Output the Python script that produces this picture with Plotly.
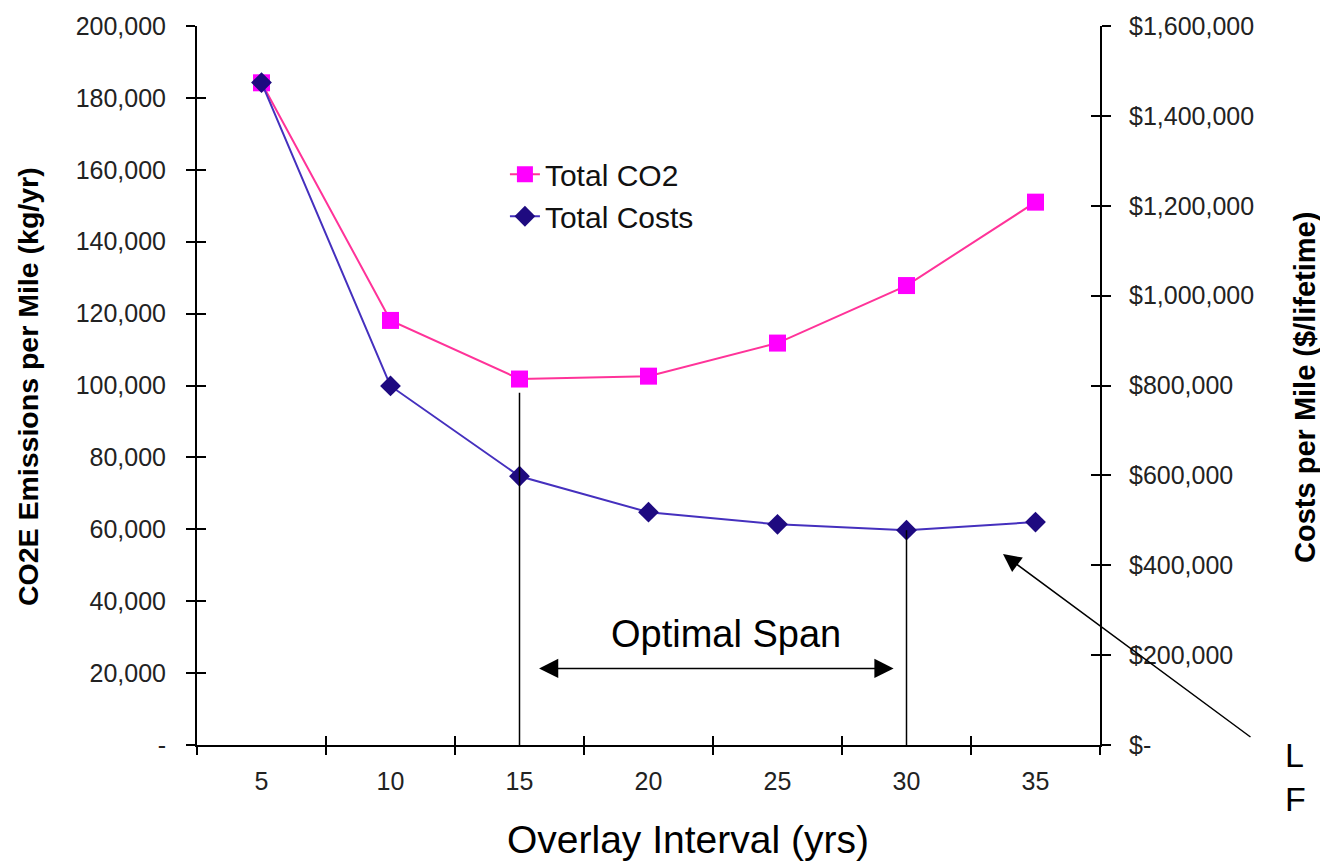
import plotly.graph_objects as go

# Overlay interval categories (years)
intervals = [5, 10, 15, 20, 25, 30, 35]
interval_labels = ["5", "10", "15", "20", "25", "30", "35"]

# Total CO2E emissions per mile (kg/yr) - left axis
total_co2 = [184200, 118100, 101800, 102600, 111800, 127800, 151000]

# Total costs per mile ($/lifetime) - right axis
total_costs = [1474000, 799000, 598000, 518000, 491000, 478000, 496000]

# Axis ticks
co2_ticks = [0, 20000, 40000, 60000, 80000, 100000, 120000, 140000, 160000, 180000, 200000]
co2_tick_text = ["-", "20,000", "40,000", "60,000", "80,000", "100,000", "120,000",
                 "140,000", "160,000", "180,000", "200,000"]
cost_ticks = [0, 200000, 400000, 600000, 800000, 1000000, 1200000, 1400000, 1600000]
cost_tick_text = ["$-", "$200,000", "$400,000", "$600,000", "$800,000", "$1,000,000",
                  "$1,200,000", "$1,400,000", "$1,600,000"]

# Optimal span bounds
span_start, span_end = 15, 30
span_start_top = 98000        # top of the marker line at the start of the span (kg/yr)

FONT = "Liberation Sans, Arial, sans-serif"
x_range = [2.5, 37.5]
x_bounds = [2.5 + 5 * i for i in range(8)]

fig = go.Figure()

fig.add_trace(go.Scatter(
    x=intervals, y=total_co2, name="Total CO2", mode="lines+markers",
    line=dict(color="#FF3399", width=2),
    marker=dict(symbol="square", size=17, color="#FF00FF", line=dict(width=0)),
    xaxis="x", yaxis="y",
))
fig.add_trace(go.Scatter(
    x=intervals, y=total_costs, name="Total Costs", mode="lines+markers",
    line=dict(color="#4530BE", width=2),
    marker=dict(symbol="diamond", size=16, color="#1E0A80", line=dict(width=0)),
    xaxis="x", yaxis="y2",
))

# Empty traces that hold the tick-mark overlay axes
for xa, ya in [("x2", "y"), ("x3", "y"), ("x", "y3"), ("x", "y4")]:
    fig.add_trace(go.Scatter(x=[None], y=[None], xaxis=xa, yaxis=ya,
                             showlegend=False, hoverinfo="skip"))

tick_font = dict(family=FONT, size=25, color="#222222")

fig.update_layout(
    width=1320, height=862,
    margin=dict(l=197, r=220, t=22, b=117),
    paper_bgcolor="white", plot_bgcolor="white",
    font=dict(family=FONT, color="black"),
    showlegend=True,
    legend=dict(x=0.341, y=0.83, xanchor="left", yanchor="top",
                bgcolor="rgba(0,0,0,0)", font=dict(family=FONT, size=30, color="#111111"),
                tracegroupgap=0),
    xaxis=dict(range=x_range, tickvals=intervals, ticktext=interval_labels,
               ticks="", showline=True, linecolor="black", linewidth=2,
               showgrid=False, zeroline=False, tickfont=tick_font,
               ticklabelstandoff=13, fixedrange=True),
    xaxis2=dict(range=x_range, overlaying="x", anchor="y", side="bottom",
                tickvals=x_bounds, ticks="outside", ticklen=9, tickwidth=2,
                tickcolor="black", showticklabels=False, showline=False,
                showgrid=False, zeroline=False),
    xaxis3=dict(range=x_range, overlaying="x", anchor="y", side="bottom",
                tickvals=x_bounds, ticks="inside", ticklen=9, tickwidth=2,
                tickcolor="black", showticklabels=False, showline=False,
                showgrid=False, zeroline=False),
    yaxis=dict(range=[0, 200000], tickvals=co2_ticks, ticktext=co2_tick_text,
               ticks="outside", ticklen=9, tickwidth=2, tickcolor="black",
               showline=True, linecolor="black", linewidth=2, showgrid=False,
               zeroline=False, tickfont=tick_font, ticklabelstandoff=15),
    yaxis2=dict(range=[0, 1600000], tickvals=cost_ticks, ticktext=cost_tick_text,
                overlaying="y", side="right", anchor="x",
                ticks="outside", ticklen=9, tickwidth=2, tickcolor="black",
                showline=True, linecolor="black", linewidth=2, showgrid=False,
                zeroline=False, tickfont=tick_font, ticklabelstandoff=13),
    yaxis3=dict(range=[0, 200000], tickvals=co2_ticks, overlaying="y", side="left",
                anchor="x", ticks="inside", ticklen=9, tickwidth=2, tickcolor="black",
                showticklabels=False, showline=False, showgrid=False, zeroline=False),
    yaxis4=dict(range=[0, 1600000], tickvals=cost_ticks, overlaying="y", side="right",
                anchor="x", ticks="inside", ticklen=9, tickwidth=2, tickcolor="black",
                showticklabels=False, showline=False, showgrid=False, zeroline=False),
)

# Vertical markers bounding the optimal span
fig.add_shape(type="line", xref="x", yref="y", x0=span_start, x1=span_start,
              y0=0, y1=span_start_top, line=dict(color="black", width=1.5))
fig.add_shape(type="line", xref="x", yref="y2", x0=span_end, x1=span_end,
              y0=0, y1=total_costs[intervals.index(span_end)],
              line=dict(color="black", width=1.5))

# Optimal span label and double-headed arrow
fig.add_annotation(x=(span_start + span_end) / 2 + 0.5, y=31000, xref="x", yref="y",
                   xanchor="center", yanchor="middle",
                   text="Optimal Span", showarrow=False,
                   font=dict(family=FONT, size=38, color="black"))
fig.add_annotation(x=span_end - 0.5, y=21300, xref="x", yref="y",
                   ax=span_start + 0.7, ay=21300, axref="x", ayref="y",
                   text="", showarrow=True, arrowside="end+start",
                   arrowhead=2, arrowsize=2.4, arrowwidth=1.6, arrowcolor="black")

# Pointer towards the tail of the cost curve
fig.add_annotation(x=33.74, y=53100, xref="x", yref="y", ax=249, ay=184,
                   text="", showarrow=True, arrowhead=2, arrowsize=2.4,
                   arrowwidth=1.5, arrowcolor="black")
fig.add_annotation(x=1.2027, y=-0.044, xref="paper", yref="paper",
                   xanchor="left", yanchor="middle", align="left",
                   text="L<br>F", showarrow=False,
                   font=dict(family=FONT, size=34, color="black"))

# Axis titles
fig.add_annotation(x=-0.187, y=0.498, xref="paper", yref="paper",
                   xanchor="center", yanchor="middle",
                   text="<b>CO2E Emissions per Mile (kg/yr)</b>", textangle=-90,
                   showarrow=False, font=dict(family=FONT, size=28.5, color="black"))
fig.add_annotation(x=1.227, y=0.498, xref="paper", yref="paper",
                   xanchor="center", yanchor="middle",
                   text="<b>Costs per Mile ($/lifetime)</b>", textangle=-90,
                   showarrow=False, font=dict(family=FONT, size=29, color="black"))
fig.add_annotation(x=0.5437, y=-0.131, xref="paper", yref="paper",
                   xanchor="center", yanchor="middle",
                   text="Overlay Interval (yrs)", showarrow=False,
                   font=dict(family=FONT, size=39, color="black"))

fig.write_html("out.html")
